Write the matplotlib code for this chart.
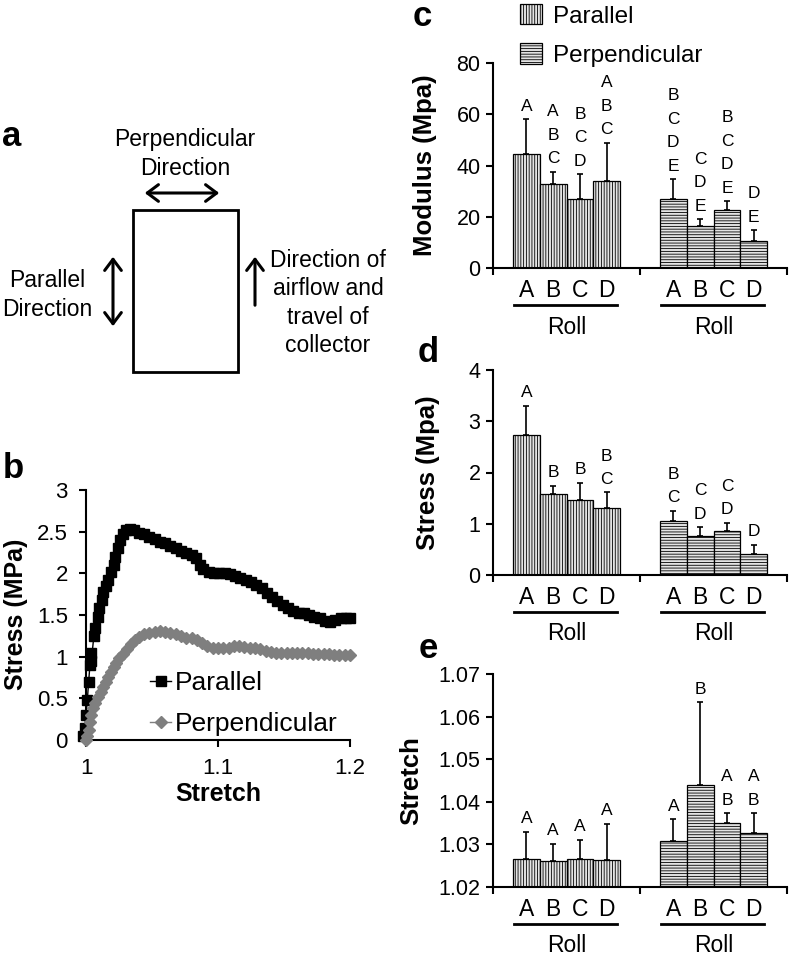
import numpy as np
import matplotlib
matplotlib.use('Agg')
import matplotlib.pyplot as plt
import matplotlib.transforms as mtransforms
from matplotlib.patches import Rectangle, Patch, FancyArrowPatch
from matplotlib.lines import Line2D
from matplotlib.ticker import FuncFormatter

plt.rcParams['font.family'] = ['Liberation Sans', 'DejaVu Sans']
plt.rcParams['hatch.linewidth'] = 0.6

W, H = 792, 957

# panel b: stress-stretch curves
par_x = [0.998, 0.999, 1.000, 1.001, 1.002, 1.003, 1.004, 1.004, 1.006, 1.007, 1.009, 1.010,
         1.012, 1.013, 1.015, 1.017, 1.019, 1.021, 1.022, 1.024, 1.026, 1.028, 1.030, 1.033,
         1.036, 1.040, 1.044, 1.048, 1.052, 1.056, 1.060, 1.064, 1.068, 1.072, 1.076, 1.080,
         1.083, 1.086, 1.089, 1.093, 1.097, 1.101, 1.105, 1.109, 1.113, 1.117, 1.121, 1.125,
         1.129, 1.133, 1.137, 1.141, 1.145, 1.149, 1.153, 1.157, 1.161, 1.165, 1.169, 1.173,
         1.177, 1.181, 1.185, 1.189, 1.193, 1.197, 1.200]
par_y = [0.05, 0.15, 0.30, 0.48, 0.70, 0.90, 1.05, 0.95, 1.25, 1.35, 1.48, 1.58,
         1.68, 1.78, 1.85, 1.92, 2.02, 2.10, 2.20, 2.30, 2.40, 2.47, 2.52, 2.53,
         2.52, 2.49, 2.47, 2.44, 2.41, 2.38, 2.36, 2.33, 2.30, 2.27, 2.24, 2.22,
         2.18, 2.10, 2.05, 2.02, 2.01, 2.00, 2.00, 1.99, 1.97, 1.95, 1.92, 1.90,
         1.86, 1.82, 1.77, 1.72, 1.67, 1.62, 1.58, 1.55, 1.53, 1.52, 1.50, 1.48,
         1.46, 1.43, 1.42, 1.44, 1.46, 1.47, 1.46]
perp_x = [1.000, 1.001, 1.002, 1.003, 1.004, 1.005, 1.007, 1.009, 1.011, 1.013, 1.015, 1.017,
          1.019, 1.021, 1.023, 1.025, 1.028, 1.031, 1.034, 1.037, 1.040, 1.044, 1.048, 1.052,
          1.056, 1.060, 1.064, 1.068, 1.072, 1.076, 1.080, 1.084, 1.088, 1.092, 1.096, 1.100,
          1.104, 1.108, 1.112, 1.116, 1.120, 1.124, 1.128, 1.132, 1.136, 1.140, 1.144, 1.148,
          1.152, 1.156, 1.160, 1.164, 1.168, 1.172, 1.176, 1.180, 1.184, 1.188, 1.192, 1.196,
          1.200]
perp_y = [0.00, 0.05, 0.12, 0.22, 0.30, 0.38, 0.45, 0.52, 0.58, 0.64, 0.70, 0.76,
          0.82, 0.88, 0.93, 0.98, 1.03, 1.09, 1.15, 1.20, 1.24, 1.27, 1.29, 1.30,
          1.31, 1.30, 1.29, 1.27, 1.25, 1.23, 1.22, 1.20, 1.17, 1.13, 1.11, 1.10,
          1.10, 1.11, 1.13, 1.13, 1.12, 1.11, 1.10, 1.09, 1.07, 1.06, 1.05, 1.05,
          1.04, 1.04, 1.04, 1.04, 1.04, 1.03, 1.03, 1.03, 1.03, 1.02, 1.02, 1.02,
          1.02]

# panels c-e: bar means, upper error and significance letters
rolls = ['A', 'B', 'C', 'D']
mod_par = [44.5, 32.7, 26.8, 34.0]
mod_par_err = [13.5, 4.9, 9.8, 14.9]
mod_perp = [26.8, 16.4, 22.6, 10.7]
mod_perp_err = [7.9, 2.7, 3.5, 4.1]
mod_par_let = ['A', 'A\nB\nC', 'B\nC\nD', 'A\nB\nC']
mod_perp_let = ['B\nC\nD\nE', 'C\nD\nE', 'B\nC\nD\nE', 'D\nE']

str_par = [2.73, 1.58, 1.46, 1.30]
str_par_err = [0.57, 0.16, 0.34, 0.31]
str_perp = [1.05, 0.77, 0.86, 0.41]
str_perp_err = [0.20, 0.16, 0.16, 0.18]
str_par_let = ['A', 'B', 'B', 'B\nC']
str_perp_let = ['B\nC', 'C\nD', 'C\nD', 'D']

stc_par = [1.0265, 1.0260, 1.0265, 1.0263]
stc_par_err = [0.0064, 0.0041, 0.0046, 0.0085]
stc_perp = [1.0308, 1.0440, 1.0350, 1.0326]
stc_perp_err = [0.0051, 0.0194, 0.0023, 0.0047]
stc_par_let = ['A', 'A', 'A', 'A']
stc_perp_let = ['A', 'B', 'A\nB', 'A\nB']

PAR_HATCH = '||||||'
PERP_HATCH = '------'
BAR_FACE = '#e4e4e4'

fig = plt.figure(figsize=(W / 100, H / 100), dpi=100)


def fpos(x, y):
    return x / W, 1 - y / H


def axes_px(left, top, right, bottom):
    return fig.add_axes([left / W, 1 - bottom / H, (right - left) / W, (bottom - top) / H])


def below(ax, px):
    return ax.get_xaxis_transform() + mtransforms.ScaledTranslation(0, -px / 100, fig.dpi_scale_trans)


# ---------- panel a (schematic) ----------
ax_a = fig.add_axes([0, 0, 1, 1])
ax_a.set_xlim(0, W)
ax_a.set_ylim(H, 0)
ax_a.axis('off')
ax_a.add_patch(Rectangle((133, 210), 105, 162, fill=False, lw=2.0, ec='black'))
arrow_kw = dict(arrowstyle='<->,head_length=4,head_width=3', lw=2.2, color='black', mutation_scale=2)
ax_a.add_patch(FancyArrowPatch((142, 193), (222, 193), **arrow_kw))
ax_a.add_patch(FancyArrowPatch((113, 254), (113, 329), **arrow_kw))
ax_a.add_patch(FancyArrowPatch((255, 308), (255, 254),
                               arrowstyle='->,head_length=4,head_width=3', lw=2.2,
                               color='black', mutation_scale=2))
txt_kw = dict(ha='center', va='center', fontsize=16.5, linespacing=1.28)
ax_a.text(185, 154, 'Perpendicular\nDirection', **txt_kw)
ax_a.text(47, 295, 'Parallel\nDirection', **txt_kw)
ax_a.text(328, 303, 'Direction of\nairflow and\ntravel of\ncollector', **txt_kw)

for lab, (x, y) in zip('abcde', [(12, 137), (13, 468), (422, 17), (428, 353), (428, 648)]):
    fig.text(*fpos(x, y), lab, fontsize=25, fontweight='bold', ha='center', va='center')

# ---------- panel b ----------
ax_b = axes_px(86, 490, 350, 740)
ax_b.plot(par_x, par_y, color='black', lw=1, marker='s', ms=7.5, clip_on=False, zorder=3)
ax_b.plot(perp_x, perp_y, color='#7f7f7f', lw=1, marker='D', ms=6.5, clip_on=False, zorder=3)
ax_b.set_xlim(1, 1.2)
ax_b.set_ylim(0, 3)
ax_b.set_xticks([1, 1.1, 1.2])
ax_b.set_yticks(np.arange(0, 3.01, 0.5))
fmt = FuncFormatter(lambda v, p: '%g' % round(v, 3))
ax_b.xaxis.set_major_formatter(fmt)
ax_b.yaxis.set_major_formatter(fmt)
for s in ['top', 'right']:
    ax_b.spines[s].set_visible(False)
for s in ['left', 'bottom']:
    ax_b.spines[s].set_linewidth(1.5)
ax_b.tick_params(direction='out', length=5, width=1.5, labelsize=16, pad=8)
fig.text(*fpos(218, 794), 'Stretch', fontsize=18, fontweight='bold', ha='center', va='center')
fig.text(*fpos(16, 614), 'Stress (MPa)', fontsize=18, fontweight='bold', ha='center', va='center',
         rotation=90)
b_handles = [Line2D([], [], color='black', lw=1, marker='s', ms=7.5),
             Line2D([], [], color='#7f7f7f', lw=1, marker='D', ms=6.5)]
ax_b.legend(b_handles, ['Parallel', 'Perpendicular'], loc='upper left',
            bbox_to_anchor=fpos(150, 671), bbox_transform=fig.transFigure, frameon=False,
            fontsize=19, handlelength=0.8, handletextpad=0.15, labelspacing=0.64,
            borderpad=0, borderaxespad=0)


# ---------- panels c-e ----------
def bar_panel(ax, par, par_err, perp, perp_err, par_let, perp_let, ylim, yticks, yfmt, ylabel, ylab_x):
    w = 0.182
    offs = (np.arange(4) - 1.5) * w
    xs_par = 0.5 + offs
    xs_perp = 1.5 + offs
    ax.bar(xs_par, np.array(par) - ylim[0], w, bottom=ylim[0], color=BAR_FACE, edgecolor='black',
           lw=0.9, hatch=PAR_HATCH, zorder=2)
    ax.bar(xs_perp, np.array(perp) - ylim[0], w, bottom=ylim[0], color=BAR_FACE, edgecolor='black',
           lw=0.9, hatch=PERP_HATCH, zorder=2)
    for xs, vals, errs, lets in [(xs_par, par, par_err, par_let), (xs_perp, perp, perp_err, perp_let)]:
        ax.errorbar(xs, vals, yerr=[np.zeros(4), errs], fmt='none', ecolor='black',
                    elinewidth=1.2, capsize=2.5, capthick=1.2, zorder=3)
        for x, v, e, t in zip(xs, vals, errs, lets):
            ax.annotate(t, (x, v + e), xytext=(0, 4), textcoords='offset points',
                        ha='center', va='bottom', fontsize=12.5, linespacing=1.7)
    ax.set_xlim(0, 2)
    ax.set_ylim(*ylim)
    ax.set_yticks(yticks)
    ax.yaxis.set_major_formatter(FuncFormatter(lambda v, p: yfmt % v))
    ax.set_xticks([0, 1, 2])
    ax.set_xticklabels([])
    ax.set_xticks(list(xs_par) + list(xs_perp), rolls + rolls, minor=True)
    for s in ['top', 'right']:
        ax.spines[s].set_visible(False)
    for s in ['left', 'bottom']:
        ax.spines[s].set_linewidth(1.5)
    ax.tick_params(which='major', direction='out', length=5, width=1.5, labelsize=15.5, pad=4)
    ax.tick_params(which='minor', axis='x', length=0, labelsize=16.5, pad=8)
    for g in [0.5, 1.5]:
        ax.plot([g - 2 * w + 0.01, g + 2 * w - 0.02], [0, 0], color='black', lw=2,
                transform=below(ax, 37), clip_on=False)
        ax.text(g, 0, 'Roll', ha='center', va='center', fontsize=16.5, transform=below(ax, 59))
    pos = ax.get_position()
    fig.text(ylab_x / W, pos.y0 + pos.height / 2, ylabel, ha='center', va='center', rotation=90,
             fontsize=18.5, fontweight='bold')


ax_c = axes_px(493, 63, 787, 268)
bar_panel(ax_c, mod_par, mod_par_err, mod_perp, mod_perp_err, mod_par_let, mod_perp_let,
          (0, 80), [0, 20, 40, 60, 80], '%d', 'Modulus (Mpa)', 425)
ax_d = axes_px(493, 370, 787, 575)
bar_panel(ax_d, str_par, str_par_err, str_perp, str_perp_err, str_par_let, str_perp_let,
          (0, 4), [0, 1, 2, 3, 4], '%d', 'Stress (Mpa)', 428)
ax_e = axes_px(493, 674, 787, 887)
bar_panel(ax_e, stc_par, stc_par_err, stc_perp, stc_perp_err, stc_par_let, stc_perp_let,
          (1.02, 1.07), [1.02, 1.03, 1.04, 1.05, 1.06, 1.07], '%.2f', 'Stretch', 411)

c_handles = [Patch(facecolor=BAR_FACE, edgecolor='black', hatch=PAR_HATCH, lw=0.9),
             Patch(facecolor=BAR_FACE, edgecolor='black', hatch=PERP_HATCH, lw=0.9)]
fig.legend(c_handles, ['Parallel', 'Perpendicular'], loc='upper left',
           bbox_to_anchor=fpos(519, 3), frameon=False, fontsize=17.5, handlelength=0.9,
           handleheight=0.9, handletextpad=0.45, labelspacing=0.65, borderpad=0.05,
           borderaxespad=0)

fig.savefig('out.png', dpi=100)
